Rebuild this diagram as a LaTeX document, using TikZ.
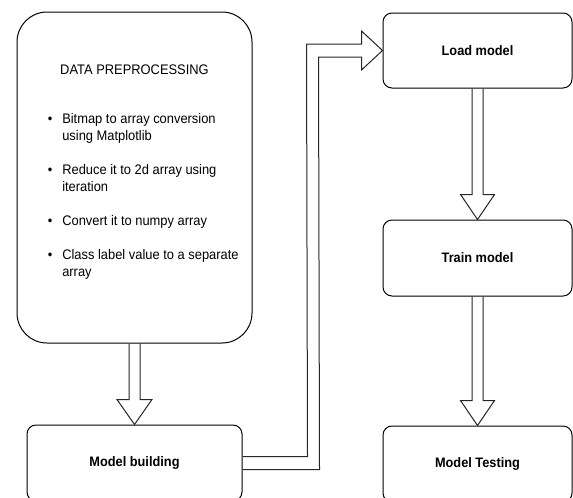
\documentclass[tikz,border=0pt]{standalone}
\usepackage{fontspec}
\setmainfont{Liberation Sans}[FakeStretch=0.93]
\usetikzlibrary{calc}
\begin{document}
\begin{tikzpicture}[x=0.75pt,y=-0.75pt,
  box/.style={draw=black, line width=0.75pt, rounded corners=6.75pt, inner sep=0pt,
    font=\fontsize{10.3pt}{12pt}\selectfont\bfseries, align=center},
  bigbox/.style={draw=black, line width=0.75pt, rounded corners=22.5pt, inner sep=0pt,
    minimum width=176.25pt, minimum height=248.25pt},
  flex/.style={draw=black!85, line width=0.75pt, line join=miter},
  txt/.style={font=\fontsize{10.4pt}{12.75pt}\selectfont, inner sep=0pt, align=left}]
\clip (0,0) rectangle (573,497);
\fill[white] (0,0) rectangle (573,497);
% boxes
\node[bigbox] (prep) at (134.5,177.5) {};
\node[box, minimum width=161.25pt, minimum height=57pt] (build) at (134.5,463) {Model building};
\node[box, minimum width=141.75pt, minimum height=56.25pt] (load) at (477.5,50.5) {Load model};
\node[box, minimum width=141.75pt, minimum height=57pt] (train) at (477.5,258) {Train model};
\node[box, minimum width=141.75pt, minimum height=57pt] (test) at (477.5,464) {Model Testing};
% texts in the big box
\node[txt] (title) at (134.5,70) {DATA PREPROCESSING};
\node[txt, anchor=west] (list) at (47.5,196.5) {%
  \renewcommand\arraystretch{1}%
  \begin{tabular}{@{}l@{\hspace{7.5pt}}l@{}}
  \textbullet & Bitmap to array conversion\\
   & using Matplotlib\\
   & \\
  \textbullet & Reduce it to 2d array using\\
   & iteration\\
   & \\
  \textbullet & Convert it to numpy array\\
   & \\
  \textbullet & Class label value to a separate\\
   & array
  \end{tabular}};
% arrow prep -> build
\draw[flex] ($(prep.south)+(-5.5,0)$) -- ($(build.north)+(-5.5,-25)$)
  -- ($(build.north)+(-17.5,-25)$) -- (build.north) -- ($(build.north)+(17.5,-25)$)
  -- ($(build.north)+(5.5,-25)$) -- ($(prep.south)+(5.5,0)$);
% arrow load -> train
\draw[flex] ($(load.south)+(-5.5,0)$) -- ($(train.north)+(-5.5,-25)$)
  -- ($(train.north)+(-17,-25)$) -- (train.north) -- ($(train.north)+(17,-25)$)
  -- ($(train.north)+(5.5,-25)$) -- ($(load.south)+(5.5,0)$);
% arrow train -> test
\draw[flex] ($(train.south)+(-5.5,0)$) -- ($(test.north)+(-5.5,-25)$)
  -- ($(test.north)+(-17,-25)$) -- (test.north) -- ($(test.north)+(17,-25)$)
  -- ($(test.north)+(5.5,-25)$) -- ($(train.south)+(5.5,0)$);
% elbow arrow build -> load
\draw[flex] ($(build.east)+(0,-6.5)$) -- ($(build.east)+(65,-6.5)$)
  -- ($(load.west)+(-76,-6.5)$) -- ($(load.west)+(-21,-6.5)$)
  -- ($(load.west)+(-21,-19.5)$) -- (load.west) -- ($(load.west)+(-21,19.5)$)
  -- ($(load.west)+(-21,6.5)$) -- ($(load.west)+(-64,6.5)$)
  -- ($(build.east)+(77,6.5)$) -- ($(build.east)+(0,6.5)$);
\end{tikzpicture}
\end{document}
